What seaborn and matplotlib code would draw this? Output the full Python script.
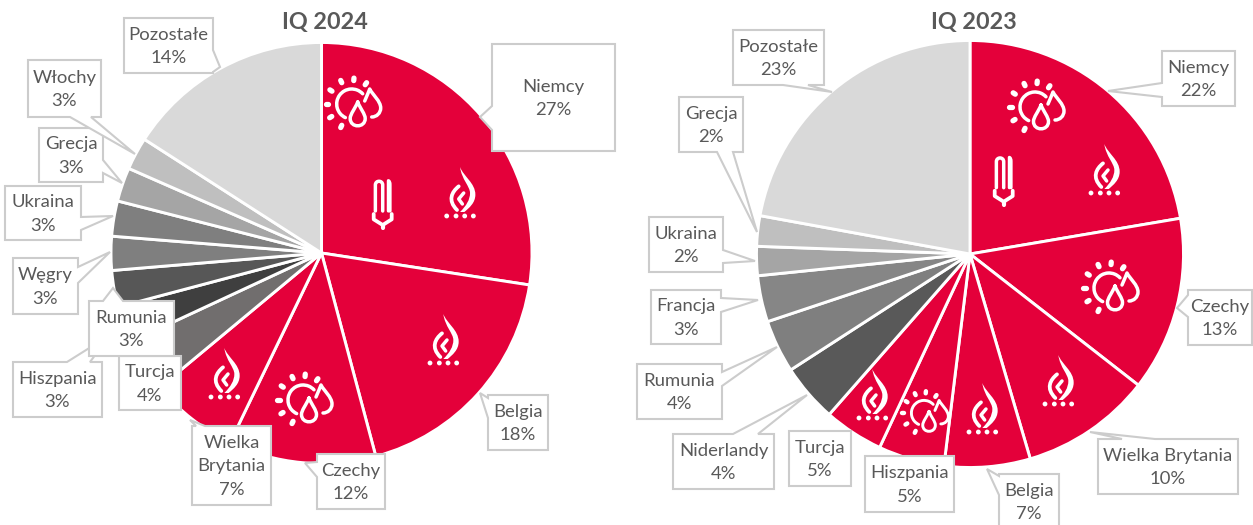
import matplotlib
matplotlib.use('Agg')
import numpy as np
import matplotlib.pyplot as plt
from matplotlib.patches import Polygon, Circle, PathPatch, Arc
from matplotlib.path import Path
import seaborn as sns

# shares, the printed labels are kept separately
categories_2024 = ['Niemcy', 'Belgia', 'Czechy', 'Wielka\nBrytania', 'Turcja', 'Hiszpania',
                   'Rumunia', 'Węgry', 'Ukraina', 'Grecja', 'Włochy', 'Pozostałe']
shares_2024 = [27.4, 18.4, 11.3, 6.8, 4.1, 2.8, 2.8, 2.6, 2.7, 2.6, 2.5, 15.9]
labels_2024 = ['27%', '18%', '12%', '7%', '4%', '3%', '3%', '3%', '3%', '3%', '3%', '14%']

categories_2023 = ['Niemcy', 'Czechy', 'Wielka Brytania', 'Belgia', 'Hiszpania', 'Turcja',
                   'Niderlandy', 'Rumunia', 'Francja', 'Ukraina', 'Grecja', 'Pozostałe']
shares_2023 = [22.3, 13.2, 9.9, 6.5, 5.0, 4.5, 4.4, 4.0, 3.5, 2.2, 2.3, 22.1]
labels_2023 = ['22%', '13%', '10%', '7%', '5%', '5%', '4%', '4%', '3%', '2%', '2%', '23%']

RED = '#E4003A'
colors_2024 = [RED, RED, RED, RED, '#716E6E', '#3F3F3F', '#575757', '#7F7F7F', '#7F7F7F',
               '#A5A5A5', '#BFBFBF', '#D9D9D9']
colors_2023 = [RED, RED, RED, RED, RED, RED, '#595959', '#7F7F7F', '#868686', '#A5A5A5',
               '#BFBFBF', '#D9D9D9']

W, H = 1253, 525
BORDER = '#CCCCCC'
TEXT = '#595959'

sns.set_theme(style='white')
plt.rcParams['font.family'] = ['Lato', 'DejaVu Sans']

fig = plt.figure(figsize=(W / 100, H / 100), dpi=100)
fig.patch.set_facecolor('white')


def draw_pie(cx, cy, r, shares, colors):
    ax = fig.add_axes([(cx - r) / W, 1 - (cy + r) / H, 2 * r / W, 2 * r / H])
    ax.pie(shares, colors=colors, startangle=90, counterclock=False, radius=1,
           wedgeprops=dict(edgecolor='white', linewidth=2.1))
    ax.set_xlim(-1, 1)
    ax.set_ylim(-1, 1)
    return ax


draw_pie(321.5, 253, 210.5, shares_2024, colors_2024)
draw_pie(970, 254, 213.5, shares_2023, colors_2023)

# overlay in pixel coordinates for the callouts and the icons
ov = fig.add_axes([0, 0, 1, 1], facecolor='none')
ov.set_xlim(0, W)
ov.set_ylim(H, 0)
ov.axis('off')


def callout(name, pct, box, side=None, a=0, b=0, tip=None):
    x0, y0, x1, y1 = box
    top = [(a, y0), tip, (b, y0)] if side == 'top' else []
    right = [(x1, a), tip, (x1, b)] if side == 'right' else []
    bottom = [(b, y1), tip, (a, y1)] if side == 'bottom' else []
    left = [(x0, b), tip, (x0, a)] if side == 'left' else []
    verts = [(x0, y0)] + top + [(x1, y0)] + right + [(x1, y1)] + bottom + [(x0, y1)] + left
    ov.add_patch(Polygon(verts, closed=True, facecolor='white', edgecolor=BORDER,
                         linewidth=1.5, joinstyle='miter', clip_on=False))
    ov.text((x0 + x1) / 2, (y0 + y1) / 2 + 1, name + '\n' + pct, ha='center', va='center',
            fontsize=13.3, color=TEXT, linespacing=1.58)


# box, pointer side, pointer base, pointer tip (draw order matters where they overlap)
callouts_2024 = {
    'Pozostałe': ((124, 18, 213, 73), 'right', 50, 72, (220, 67)),
    'Włochy': ((28, 60, 101, 117), 'bottom', 70, 91, (135, 154)),
    'Grecja': ((39, 128, 103, 182), 'right', 160, 173, (122, 183)),
    'Ukraina': ((5, 186, 81, 240), 'right', 217, 230, (113, 216)),
    'Węgry': ((13, 258, 78, 314), 'right', 267, 283, (110, 252)),
    'Hiszpania': ((13, 362, 102, 417), 'top', 67, 90, (110, 335)),
    'Rumunia': ((89, 301, 174, 356), 'top', 103, 123, (113, 288)),
    'Turcja': ((119, 356, 181, 410), None, 0, 0, None),
    'Wielka\nBrytania': ((192, 426, 271, 505), 'top', 196, 205, (190, 420)),
    'Czechy': ((317, 454, 385, 509), 'left', 462, 477, (305, 463)),
    'Belgia': ((488, 395, 548, 450), 'left', 398, 418, (480, 393)),
    'Niemcy': ((492, 44, 615, 151), 'left', 106, 130, (480, 117)),
}
callouts_2023 = {
    'Pozostałe': ((733, 30, 824, 85), 'bottom', 783, 808, (832, 92)),
    'Grecja': ((679, 97, 743, 152), 'bottom', 717, 733, (757, 232)),
    'Ukraina': ((649, 217, 723, 272), 'right', 250, 263, (755, 261)),
    'Francja': ((651, 290, 721, 344), 'right', 298, 312, (758, 300)),
    'Rumunia': ((637, 364, 722, 419), 'right', 372, 386, (777, 347)),
    'Niderlandy': ((673, 434, 774, 489), 'top', 733, 758, (807, 395)),
    'Turcja': ((789, 431, 851, 486), None, 0, 0, None),
    'Hiszpania': ((865, 456, 954, 512), None, 0, 0, None),
    'Belgia': ((999, 474, 1059, 529), 'left', 476, 495, (987, 469)),
    'Wielka Brytania': ((1098, 439, 1238, 494), 'top', 1122, 1155, (1090, 432)),
    'Czechy': ((1188, 290, 1252, 345), 'left', 295, 317, (1177, 308)),
    'Niemcy': ((1162, 51, 1235, 106), 'left', 83, 97, (1108, 91)),
}

for name, pct in zip(categories_2024, labels_2024):
    callout(name, pct, *callouts_2024[name])
for name, pct in zip(categories_2023, labels_2023):
    callout(name, pct, *callouts_2023[name])

ov.text(325, 23, 'IQ 2024', ha='center', va='center', fontsize=16.8, fontweight='bold', color=TEXT)
ov.text(974, 23, 'IQ 2023', ha='center', va='center', fontsize=16.8, fontweight='bold', color=TEXT)


def stroke(pts, codes, lw=2.5):
    ov.add_patch(PathPatch(Path(pts, codes), facecolor='none', edgecolor='white', linewidth=lw,
                           capstyle='round', joinstyle='round'))


def fill(pts, codes):
    ov.add_patch(PathPatch(Path(pts, codes), facecolor='white', edgecolor='none'))


M, L, C = Path.MOVETO, Path.LINETO, Path.CURVE4


def drop(x, y, s, k):
    # tip on top, round belly under it
    tip = (x, y - 2.2 * s * k)
    pts = [tip, (x + 0.35 * s * k, y - 1.3 * s * k), (x + s * k, y - 0.6 * s * k), (x + s * k, y),
           (x + s * k, y + 1.3 * s * k), (x - s * k, y + 1.3 * s * k), (x - s * k, y),
           (x - s * k, y - 0.6 * s * k), (x - 0.35 * s * k, y - 1.3 * s * k), tip]
    stroke(pts, [M, C, C, C, C, C, C, C, C, C], lw=2.5 * k)


def sun_icon(x, y, k=1.0):
    for ang in [55, 85, 115, 147, 180, 212, 245]:
        t = np.radians(ang)
        ux, uy = np.cos(t), -np.sin(t)
        stroke([(x + 23.5 * k * ux, y + 23.5 * k * uy), (x + 26 * k * ux, y + 26 * k * uy)],
               [M, L], lw=3.8 * k)
    ov.add_patch(Arc((x, y), 30 * k, 30 * k, theta1=115, theta2=317,
                     edgecolor='white', linewidth=2.5 * k, capstyle='round'))
    drop(x + 6 * k, y + 14.5 * k, 7.5, k)
    # second drop stays open where the first one overlaps it
    pts = [(x + 13 * k, y - 3 * k), (x + 15 * k, y - 8 * k), (x + 17 * k, y - 12 * k),
           (x + 18 * k, y - 15 * k), (x + 21 * k, y - 9 * k), (x + 29 * k, y - 3 * k),
           (x + 29 * k, y + 4 * k), (x + 29 * k, y + 9 * k), (x + 25 * k, y + 13 * k),
           (x + 20 * k, y + 13 * k)]
    stroke(pts, [M, C, C, C, C, C, C, C, C, C], lw=2.5 * k)


def flame_icon(x, y, k=1.0):
    p = lambda u, v: (x + u / 3 * k, y + v / 3 * k)
    # outer crescent, coordinates taken at three times the icon size
    pts = [p(-5, -78), p(5, -50), p(41, -30), p(41, 5), p(41, 30), p(22, 45), p(8, 57),
           p(-5, 57), p(14, 38), p(25, 20), p(25, 0), p(25, -20), p(0, -40), p(-5, -78)]
    fill(pts, [M, C, C, C, C, C, C, L, C, C, C, C, C, C])
    # left side and inner leaf
    stroke([p(-9, -20), p(-30, -3), p(-43, 22), p(-14, 51)], [M, C, C, C], lw=2.7 * k)
    stroke([p(6, 0), p(-9, 18), p(2, 33)], [M, L, L], lw=2.5 * k)
    for u in [-45, -17, 9, 35]:
        ov.add_patch(Circle(p(u, 69), 2.4 * k, facecolor='white', edgecolor='none'))


def bulb_icon(x, y, k=1.0):
    p = lambda u, v: (x + u / 3 * k, y + v / 3 * k)
    stroke([p(-22, 18), p(-22, -60), p(-22, -75), p(0, -75), p(0, -60), p(0, 18)],
           [M, L, C, C, C, L], lw=2.5 * k)
    stroke([p(22, 18), p(22, -60), p(22, -68), p(20, -72), p(17, -73), p(17, 18)],
           [M, L, C, C, C, L], lw=2.3 * k)
    stroke([p(-27, 27), p(-27, 43), p(0, 60), p(27, 43), p(27, 27)], [M, L, L, L, L], lw=2.7 * k)
    stroke([p(0, 60), p(0, 70)], [M, L], lw=3 * k)


sun_icon(351.7, 104)
flame_icon(461.7, 193)
bulb_icon(382.7, 205)
flame_icon(445, 340)
sun_icon(303, 400)
flame_icon(226, 374)

sun_icon(1035, 107)
flame_icon(1106, 170)
bulb_icon(1003.7, 181.7)
sun_icon(1109, 288)
flame_icon(1060, 381)
flame_icon(984, 409)
sun_icon(924, 413, 0.84)
flame_icon(874, 395)

fig.savefig('out.png', dpi=100)
